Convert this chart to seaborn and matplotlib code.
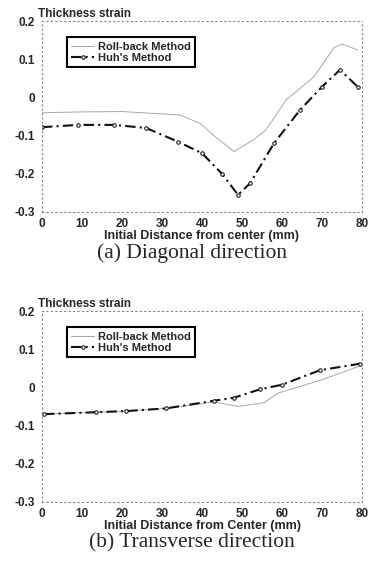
import numpy as np
import pandas as pd
import matplotlib
matplotlib.use("Agg")
import matplotlib.pyplot as plt
import seaborn as sns

# -----------------------------
# DATA
# -----------------------------
# (a) diagonal direction
diag_roll_x = [0, 10, 20, 28, 34.5, 39.5, 43, 48, 53, 56, 61, 68, 73, 75, 79]
diag_roll_y = [-0.04, -0.038, -0.037, -0.042, -0.046, -0.068, -0.10, -0.142,
               -0.11, -0.085, -0.007, 0.054, 0.13, 0.14, 0.124]
diag_huh_x = [0, 9, 18, 26, 34, 40, 45, 49, 52, 58, 64.5, 70, 74.5, 79]
diag_huh_y = [-0.078, -0.072, -0.072, -0.08, -0.116, -0.146, -0.20, -0.255,
              -0.225, -0.12, -0.033, 0.028, 0.072, 0.027]

# (b) transverse direction
trans_roll_x = [0, 13, 21, 31, 43, 49, 55.5, 59, 70, 80]
trans_roll_y = [-0.07, -0.065, -0.062, -0.055, -0.038, -0.05, -0.04, -0.015,
                0.02, 0.058]
trans_huh_x = [0.5, 13.5, 21, 31, 43, 48, 54.5, 60, 69.5, 79.5]
trans_huh_y = [-0.07, -0.065, -0.062, -0.055, -0.035, -0.027, -0.005, 0.007,
               0.045, 0.062]

x_ticks = [0, 10, 20, 30, 40, 50, 60, 70, 80]
y_ticks = [0.2, 0.1, 0, -0.1, -0.2, -0.3]
y_labels = ["0.2", "0.1", "0", "-0.1", "-0.2", "-0.3"]

series_names = ["Roll-back Method", "Huh's Method"]

panels = [
    {"roll": (diag_roll_x, diag_roll_y), "huh": (diag_huh_x, diag_huh_y),
     "xlabel": "Initial Distance from center (mm)",
     "caption": "(a) Diagonal direction", "top": 21, "bottom": 212},
    {"roll": (trans_roll_x, trans_roll_y), "huh": (trans_huh_x, trans_huh_y),
     "xlabel": "Initial Distance from Center (mm)",
     "caption": "(b) Transverse direction", "top": 311, "bottom": 502},
]

# -----------------------------
# STYLE
# -----------------------------
sns.set_style("white")
plt.rcParams["font.family"] = ["Liberation Sans", "DejaVu Sans"]

W, H = 380, 565
fig = plt.figure(figsize=(W / 100, H / 100), dpi=100)

for p in panels:
    left, right = 42, 362
    ax = fig.add_axes([left / W, 1 - p["bottom"] / H,
                       (right - left) / W, (p["bottom"] - p["top"]) / H])

    roll = pd.DataFrame({"x": p["roll"][0], "y": p["roll"][1]})
    huh = pd.DataFrame({"x": p["huh"][0], "y": p["huh"][1]})

    sns.lineplot(data=roll, x="x", y="y", ax=ax, color="#a8a8a8",
                 linewidth=0.7, label=series_names[0])
    sns.lineplot(data=huh, x="x", y="y", ax=ax, color="#111111",
                 linewidth=1.5, linestyle=(0, (5, 2, 1, 2)), marker="o",
                 markersize=2.5, markerfacecolor="white",
                 markeredgecolor="#111111", label=series_names[1])

    ax.set_xlim(0, 80)
    ax.set_ylim(-0.3, 0.2)
    ax.set_xticks(x_ticks)
    ax.set_yticks(y_ticks)
    ax.set_yticklabels(y_labels)
    ax.tick_params(length=0, labelsize=8.5, pad=5)
    ax.tick_params(axis="x", pad=4)
    for lab in ax.get_xticklabels() + ax.get_yticklabels():
        lab.set_fontweight("bold")

    for s in ax.spines.values():
        s.set_linestyle((0, (1, 3)))
        s.set_color("#808080")
        s.set_linewidth(0.8)

    ax.set_xlabel(p["xlabel"], fontsize=9, fontweight="bold", labelpad=0.5)
    ax.set_ylabel("")

    fig.text(38 / W, 1 - (p["top"] - 7) / H, "Thickness strain",
             fontsize=8.5, fontweight="bold", ha="left", va="center")
    fig.text(192 / W, 1 - (p["bottom"] + 41) / H, p["caption"],
             fontsize=15.5, family=["Liberation Serif", "DejaVu Serif"],
             ha="center", va="center")

    leg = ax.legend(loc="upper left", bbox_to_anchor=(0.078, 0.915),
                    borderaxespad=0, fancybox=False, frameon=True,
                    framealpha=1, edgecolor="black", handlelength=2.0,
                    handletextpad=0.4, borderpad=0.4, labelspacing=0.1,
                    prop={"size": 8.0, "weight": "bold"})
    leg.get_frame().set_linewidth(1.5)

fig.savefig("out.png", dpi=100)
